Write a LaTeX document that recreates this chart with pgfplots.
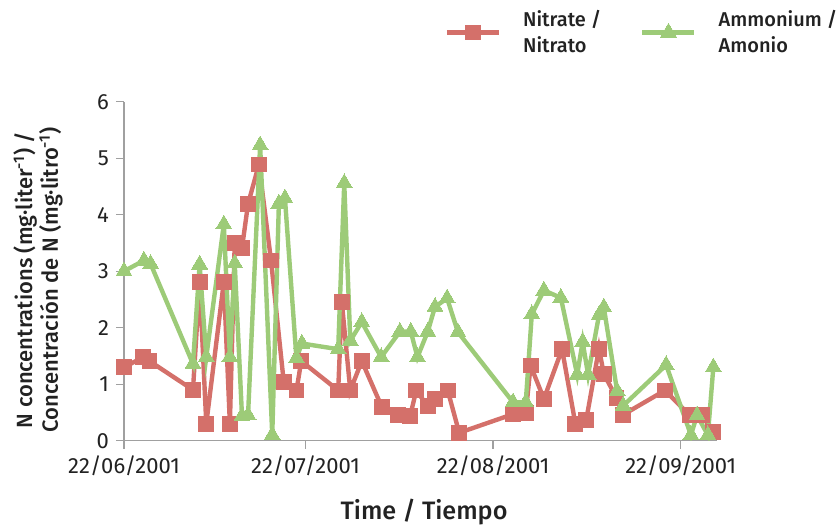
\documentclass[border=0pt]{standalone}
\usepackage{fontspec}
\setmainfont{Fira Sans}
\newfontfamily\semib{Fira Sans}[UprightFont=* Medium]
\usepackage{pgfplots}
\pgfplotsset{compat=1.18}

\definecolor{nitr}{HTML}{D4706A}
\definecolor{ammo}{HTML}{9DCB78}
\definecolor{axgray}{HTML}{A0A0A0}
\definecolor{txt}{HTML}{222222}

\pgfplotstableread{
d v
0 1.30
3.2 1.48
4.2 1.41
11.4 0.90
12.5 2.81
13.6 0.30
16.5 2.81
17.5 0.30
18.3 3.50
19.5 3.41
20.5 4.19
22.3 4.89
24.3 3.19
26.4 1.04
28.5 0.89
29.3 1.41
35.4 0.89
36.0 2.45
37.4 0.89
39.3 1.41
42.6 0.60
45.3 0.46
47.3 0.44
48.3 0.89
50.2 0.61
51.4 0.74
53.5 0.89
55.4 0.14
64.3 0.47
66.4 0.49
67.2 1.33
69.4 0.74
72.4 1.62
74.6 0.30
76.4 0.37
78.5 1.63
79.3 1.18
81.4 0.76
82.5 0.46
89.4 0.89
93.5 0.45
95.5 0.45
97.4 0.15
}\nitrate

\pgfplotstableread{
d v
0 3.00
3.3 3.19
4.4 3.13
11.4 1.36
12.5 3.12
13.6 1.48
16.5 3.83
17.5 1.48
18.3 3.14
19.5 0.44
20.5 0.45
22.5 5.23
24.5 0.10
25.6 4.20
26.6 4.29
28.5 1.46
29.4 1.72
35.4 1.62
36.4 4.56
37.4 1.77
39.3 2.10
42.5 1.48
45.6 1.93
47.4 1.93
48.5 1.48
50.2 1.93
51.4 2.37
53.4 2.52
55.2 1.92
64.3 0.68
66.4 0.68
67.4 2.24
69.4 2.66
72.2 2.53
74.9 1.17
75.8 1.75
76.7 1.17
78.5 2.22
79.3 2.36
81.5 0.88
82.5 0.62
89.6 1.34
93.7 0.10
94.7 0.45
96.5 0.10
97.4 1.30
}\ammonium

\begin{document}
\begin{tikzpicture}
\useasboundingbox (-62pt,-42.15pt) rectangle (356.5pt,220.35pt);
\begin{axis}[
  scale only axis,
  width=296.5pt, height=169.5pt,
  xmin=0, xmax=98, ymin=0, ymax=6,
  axis x line*=bottom, axis y line*=left,
  axis line style={axgray, line width=0.6pt},
  tick style={axgray, line width=0.6pt},
  tick align=outside,
  major tick length=4pt,
  xtick={0,30,61,92},
  xticklabels={22/06/2001,22/07/2001,22/08/2001,22/09/2001},
  ytick={0,1,2,3,4,5,6},
  tick label style={font=\fontsize{11}{12.5}\selectfont, text=txt},
  /pgf/number format/assume math mode=true,
  xlabel={Time / Tiempo},
  xlabel style={font=\semib\fontsize{12.6}{15}\selectfont, text=txt,
    at={(axis description cs:0.506,0)}, anchor=center, yshift=-35.6pt},
  ylabel={N concentrations (mg·liter\textsuperscript{-1}) /\\Concentración de N (mg·litro\textsuperscript{-1})},
  ylabel style={font=\semib\fontsize{11}{12.8}\selectfont, text=txt, align=center,
    at={(axis description cs:0,0.474)}, anchor=center, yshift=43pt},
  legend style={at={(rel axis cs:0.530,1.29)}, anchor=north west, draw=none,
    fill=none, font=\semib\fontsize{10}{13}\selectfont, text=txt,
    nodes={align=left, inner sep=1pt}, column sep=10pt,
    /tikz/every even column/.append style={column sep=18.5pt}},
  legend columns=2,
  legend image code/.code={%
    \draw[mark repeat=2, mark phase=2, #1] plot coordinates {(0pt,0pt) (13pt,0pt) (26pt,0pt)};},
  legend cell align=left,
]
\addplot[nitr, line width=2.2pt, mark=square*, mark size=3.7pt,
  mark options={solid, fill=nitr, draw=nitr, line width=0pt}] table[x=d, y=v] {\nitrate};
\addlegendentry{Nitrate /\\Nitrato}
\addplot[ammo, line width=2.2pt, mark=triangle*, mark size=4.6pt,
  mark options={solid, fill=ammo, draw=ammo, line width=0pt}] table[x=d, y=v] {\ammonium};
\addlegendentry{Ammonium /\\Amonio}
\end{axis}
\end{tikzpicture}
\end{document}
